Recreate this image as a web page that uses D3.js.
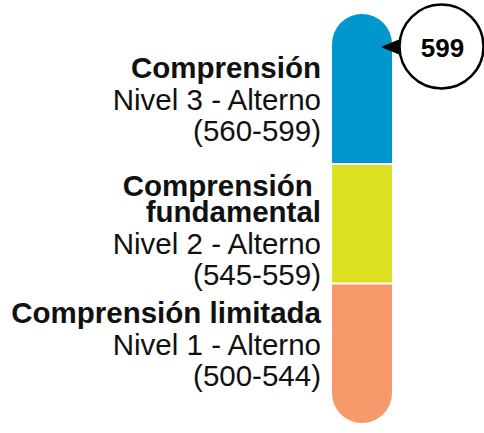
<!DOCTYPE html>
<html>
<head>
<meta charset="utf-8">
<script src="https://cdn.jsdelivr.net/npm/d3@7"></script>
<style>
  html, body { margin: 0; padding: 0; background: #fff; }
  svg { display: block; }
  text { font-family: "Liberation Sans", Arial, Helvetica, sans-serif; white-space: pre; }
</style>
</head>
<body>
<script>
// ---- data ----
const levelTitles = [["Comprensión"], ["Comprensión ", "fundamental"], ["Comprensión limitada"]];
const levelNames = ["Nivel 3 - Alterno", "Nivel 2 - Alterno", "Nivel 1 - Alterno"];
const rangeMin = [560, 545, 500];
const rangeMax = [599, 559, 544];
const levelColors = ["#0098cc", "#dce022", "#f7996a"];
const score = 599;

// ---- layout ----
const W = 484, H = 433;
const barX = 332, barW = 60, cap = 30;
const y = d3.scaleLinear()
  .domain([500, 545, 560, 600])
  .range([393, 283.5, 164, 44]);

const svg = d3.select("body").append("svg").attr("width", W).attr("height", H);

const n = levelNames.length;
levelNames.forEach((name, i) => {
  const top = y(rangeMax[i] + 1) + (i === 0 ? 0 : 1);
  const bot = y(rangeMin[i]) - (i === n - 1 ? 0 : 1);
  const x0 = barX, x1 = barX + barW;
  const p = d3.path();
  if (i === 0) {
    p.moveTo(x0, bot);
    p.lineTo(x0, top);
    p.arc(x0 + cap, top, cap, Math.PI, 2 * Math.PI);
    p.lineTo(x1, bot);
    p.closePath();
  } else if (i === n - 1) {
    p.moveTo(x0, top);
    p.lineTo(x1, top);
    p.lineTo(x1, bot);
    p.arc(x0 + cap, bot, cap, 0, Math.PI);
    p.closePath();
  } else {
    p.rect(x0, top, barW, bot - top);
  }
  svg.append("path").attr("d", p.toString()).attr("fill", levelColors[i]);
});

// labels: one text element per level, lines as tspans
const textX = 321;
const firstBaselines = [78, 196, 323];
firstBaselines.forEach((b, i) => {
  const lines = [];
  levelTitles[i].forEach((t, j) => lines.push({ t, dy: j === 0 ? 0 : 26, bold: true }));
  lines.push({ t: levelNames[i], dy: 32, bold: false });
  lines.push({ t: "(" + rangeMin[i] + "-" + rangeMax[i] + ")", dy: 31, bold: false });
  const txt = svg.append("text")
    .attr("x", textX).attr("y", b)
    .attr("text-anchor", "end")
    .attr("font-size", 29.5)
    .attr("fill", "#111");
  lines.forEach(l => {
    txt.append("tspan")
      .attr("x", textX).attr("dy", l.dy)
      .attr("font-weight", l.bold ? "bold" : "normal")
      .text(l.t);
  });
});

// score marker
const sy = y(score);
const cx = 441.5, cr = 42;
svg.append("path")
  .attr("d", `M${barX + barW - 11},${sy} L${cx - cr + 3},${sy - 9} L${cx - cr + 3},${sy + 9} Z`)
  .attr("fill", "#000");
svg.append("circle")
  .attr("cx", cx).attr("cy", sy - 0.5).attr("r", cr)
  .attr("fill", "#fff").attr("stroke", "#000").attr("stroke-width", 2.5);
svg.append("text")
  .attr("x", cx + 1).attr("y", sy + 9.5)
  .attr("text-anchor", "middle")
  .attr("font-size", 26).attr("font-weight", "bold")
  .attr("fill", "#000")
  .text(score);
</script>
</body>
</html>
